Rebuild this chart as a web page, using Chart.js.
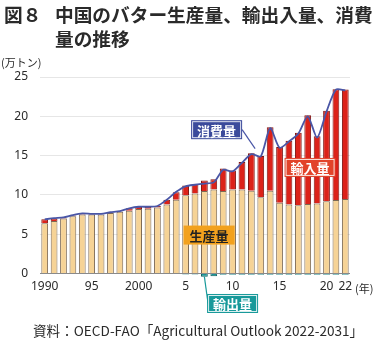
<!DOCTYPE html>
<html lang="ja">
<head>
<meta charset="utf-8">
<script src="https://cdn.jsdelivr.net/npm/chart.js@4.4.1/dist/chart.umd.min.js"></script>
<style>
  body { margin: 0; background: #fff; }
  #wrap { position: relative; width: 380px; height: 340px; overflow: hidden;
          font-family: "Noto Sans CJK JP", "Noto Sans", sans-serif; color: #2a2a2a; }
  canvas { position: absolute; left: 0; top: 0; }
  .title { position: absolute; font-weight: bold; font-size: 18.7px; line-height: 24px; white-space: nowrap; }
  .note { position: absolute; font-size: 11px; line-height: 14px; white-space: nowrap; }
  .src { position: absolute; left: 33px; top: 322px; font-size: 13.6px; line-height: 16px; white-space: nowrap; }
</style>
</head>
<body>
<div id="wrap">
  <canvas id="chart" width="380" height="340"></canvas>
  <div class="title" style="left:4px; top:2px;">図８</div>
  <div class="title" style="left:55px; top:2px;">中国のバター生産量、輸出入量、消費</div>
  <div class="title" style="left:55px; top:26px;">量の推移</div>
  <div class="note" style="left:1px; top:55px;">(万トン)</div>
  <div class="note" style="left:355px; top:281px;">(年)</div>
  <div class="src">資料：OECD-FAO「Agricultural Outlook 2022-2031」</div>
</div>
<script>
// 1990-2022, values in 10k tonnes
const years = ['1990','1991','1992','1993','1994','1995','1996','1997','1998','1999',
               '2000','2001','2002','2003','2004','2005','2006','2007','2008','2009',
               '2010','2011','2012','2013','2014','2015','2016','2017','2018','2019',
               '2020','2021','2022'];
const tickLabels = ['1990','','','','','95','','','','',
                    '2000','','','','','5','','','','',
                    '10','','','','','15','','','','',
                    '20','','22'];
const production = [6.4, 6.7, 7.0, 7.3, 7.5, 7.5, 7.5, 7.7, 7.85, 8.0,
                    8.2, 8.25, 8.4, 8.8, 9.4, 9.95, 10.2, 10.5, 10.7, 10.5,
                    10.7, 10.7, 10.55, 9.7, 10.55, 9.0, 8.8, 8.7, 8.85, 8.9,
                    9.2, 9.35, 9.5];
const imports = [0.5, 0.3, 0.1, 0.1, 0.1, 0.1, 0.05, 0.05, 0.05, 0.3,
                 0.3, 0.25, 0.2, 0.6, 0.95, 1.25, 1.2, 1.35, 1.3, 2.85,
                 2.4, 3.5, 4.75, 5.25, 8.05, 7.1, 8.1, 9.2, 11.3, 8.55,
                 11.5, 14.1, 13.9];
const exports = [0, 0, 0, 0, 0, 0, 0, 0, 0, 0,
                 0, 0, 0, -0.05, -0.05, -0.1, -0.1, -0.4, -0.35, -0.15,
                 -0.15, -0.15, -0.15, -0.15, -0.15, -0.15, -0.15, -0.15, -0.15, -0.15,
                 -0.15, -0.15, -0.15];
const consumption = [6.9, 7.05, 7.15, 7.45, 7.65, 7.6, 7.6, 7.8, 7.95, 8.3,
                     8.5, 8.5, 8.6, 9.4, 10.4, 11.1, 11.3, 11.45, 11.6, 13.2,
                     13.0, 14.1, 15.2, 14.9, 18.5, 16.0, 16.8, 17.8, 20.0, 17.3,
                     20.6, 23.4, 23.3];

// labelled boxes, placed in data units (category index, value)
const callouts = [
  { text: '消費量', i: 18.3, v: 18.3, bg: '#3b4a9b', fg: '#fff', lineTo: { i: 22.4, v: 15.9 }, lineColor: '#4a56a6', from: 'right' },
  { text: '輸入量', i: 28.25, v: 13.5, bg: '#e2432a', fg: '#fff' },
  { text: '生産量', i: 17.5, v: 4.9, bg: '#f2a11e', fg: '#222', noBorder: true },
  { text: '輸出量', i: 20.0, v: -3.8, bg: '#17999a', fg: '#fff', lineTo: { i: 17, v: -0.4 }, lineColor: '#17999a', from: 'left' }
];

const calloutPlugin = {
  id: 'callouts',
  afterDatasetsDraw(chart) {
    const { ctx, scales: { x, y } } = chart;
    const w = 51, h = 19;
    ctx.save();
    callouts.forEach(c => {
      const cx = x.getPixelForValue(c.i);
      const cy = y.getPixelForValue(c.v);
      if (c.lineTo) {
        ctx.strokeStyle = c.lineColor;
        ctx.lineWidth = 1.2;
        ctx.beginPath();
        ctx.moveTo(c.from === 'right' ? cx + w / 2 : cx - w / 2 + 1, cy);
        ctx.lineTo(x.getPixelForValue(c.lineTo.i), y.getPixelForValue(c.lineTo.v));
        ctx.stroke();
      }
      ctx.fillStyle = c.bg;
      ctx.fillRect(cx - w / 2, cy - h / 2, w, h);
      if (!c.noBorder) {
        ctx.strokeStyle = 'rgba(255,255,255,0.85)';
        ctx.lineWidth = 1;
        ctx.strokeRect(cx - w / 2 + 1.5, cy - h / 2 + 1.5, w - 3, h - 3);
      }
      ctx.fillStyle = c.fg;
      ctx.font = 'bold 13px "Noto Sans CJK JP", sans-serif';
      ctx.textAlign = 'center';
      ctx.textBaseline = 'middle';
      ctx.fillText(c.text, cx, cy + 1);
    });
    ctx.restore();
  }
};

new Chart(document.getElementById('chart'), {
  data: {
    labels: years,
    datasets: [
      {
        type: 'line',
        label: '消費量',
        data: consumption,
        borderColor: '#4a56a6',
        borderWidth: 1.8,
        pointRadius: 0,
        tension: 0.25,
        order: 0
      },
      {
        type: 'bar',
        label: '生産量',
        data: production,
        backgroundColor: '#f6d396',
        borderColor: '#7d6a55',
        borderWidth: 1,
        order: 1
      },
      {
        type: 'bar',
        label: '輸入量',
        data: imports,
        backgroundColor: '#dc2219',
        borderColor: '#7e1512',
        borderWidth: 1,
        order: 1
      },
      {
        type: 'bar',
        label: '輸出量',
        data: exports,
        backgroundColor: '#1b9495',
        borderColor: '#0e6061',
        borderWidth: 1,
        clip: false,
        order: 1
      }
    ]
  },
  options: {
    responsive: false,
    animation: false,
    devicePixelRatio: 1,
    layout: { padding: { left: 0, top: 77, right: 30, bottom: 0 } },
    datasets: { bar: { categoryPercentage: 1, barPercentage: 0.72 } },
    plugins: { legend: { display: false }, tooltip: { enabled: false } },
    scales: {
      x: {
        stacked: true,
        grid: { display: false, drawTicks: false },
        border: { display: false },
        ticks: {
          autoSkip: false, maxRotation: 0, padding: 6,
          color: '#2a2a2a',
          font: { size: 12, family: '"Noto Sans", sans-serif' },
          callback: (v, i) => tickLabels[i]
        },
        afterFit(s) { s.height = 66.4; }
      },
      y: {
        stacked: true,
        min: 0, max: 25,
        ticks: {
          stepSize: 5, padding: 12,
          color: '#2a2a2a',
          font: { size: 12, family: '"Noto Sans", sans-serif' }
        },
        grid: {
          drawTicks: false, tickLength: 0,
          color: c => c.tick.value === 0 ? '#8a8a8a' : '#e6e6e6'
        },
        border: { display: false },
        afterFit(s) { s.width = 40; }
      }
    }
  },
  plugins: [calloutPlugin]
});
</script>
</body>
</html>
